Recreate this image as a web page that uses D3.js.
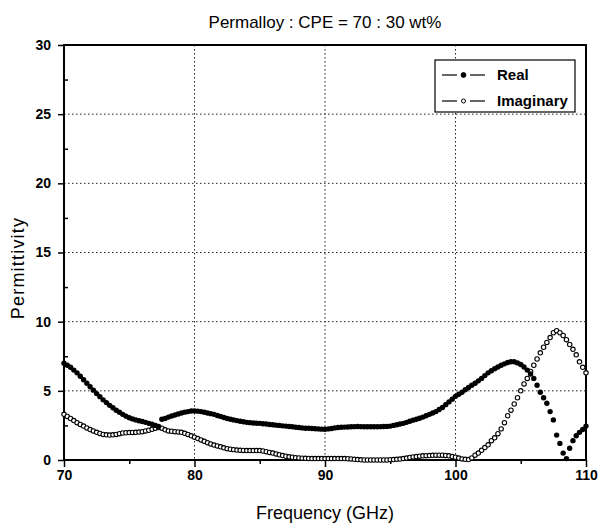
<!DOCTYPE html>
<html>
<head>
<meta charset="utf-8">
<script src="https://cdn.jsdelivr.net/npm/d3@7"></script>
<style>
  body { margin: 0; background: #fff; }
  text { font-family: Arial, "Liberation Sans", sans-serif; fill: #000; }
</style>
</head>
<body>
<div id="container"></div>
<script>
// frequency grid of the measurement, GHz
const freq = d3.range(0, 161).map(i => 70 + i * 0.25);

// Real part, one value per 0.25 GHz (rows = 1 GHz)
const realVals = [
  7.00, 6.85, 6.70, 6.50,
  6.30, 6.05, 5.80, 5.55,
  5.30, 5.05, 4.80, 4.58,
  4.35, 4.15, 3.95, 3.78,
  3.60, 3.45, 3.30, 3.17,
  3.05, 2.97, 2.90, 2.84,
  2.78, 2.72, 2.65, 2.58,
  2.50, 2.42, 2.95, 3.00,
  3.10, 3.18, 3.25, 3.33,
  3.40, 3.46, 3.50, 3.54,
  3.55, 3.53, 3.50, 3.45,
  3.40, 3.35, 3.30, 3.22,
  3.15, 3.07, 3.00, 2.95,
  2.90, 2.85, 2.80, 2.76,
  2.72, 2.70, 2.68, 2.66,
  2.65, 2.62, 2.60, 2.57,
  2.55, 2.52, 2.50, 2.47,
  2.45, 2.42, 2.40, 2.37,
  2.35, 2.32, 2.30, 2.29,
  2.28, 2.26, 2.25, 2.23,
  2.22, 2.25, 2.28, 2.32,
  2.35, 2.37, 2.38, 2.39,
  2.40, 2.41, 2.42, 2.41,
  2.40, 2.40, 2.40, 2.40,
  2.40, 2.41, 2.42, 2.43,
  2.45, 2.50, 2.55, 2.60,
  2.65, 2.72, 2.80, 2.88,
  2.95, 3.02, 3.10, 3.20,
  3.30, 3.40, 3.50, 3.65,
  3.80, 4.00, 4.20, 4.40,
  4.60, 4.75, 4.90, 5.08,
  5.25, 5.40, 5.55, 5.72,
  5.90, 6.10, 6.30, 6.45,
  6.60, 6.72, 6.85, 6.95,
  7.05, 7.10, 7.10, 7.02,
  6.90, 6.72, 6.50, 6.22,
  5.90, 5.40, 4.90, 4.50,
  4.10, 3.50, 2.90, 1.80,
  1.20, 0.50, 0.10, 0.85,
  1.40, 1.75, 2.00, 2.20,
  2.45
];

// Imaginary part
const imagVals = [
  3.30, 3.15, 3.00, 2.85,
  2.70, 2.57, 2.45, 2.32,
  2.20, 2.10, 2.00, 1.92,
  1.85, 1.82, 1.80, 1.82,
  1.85, 1.90, 1.95, 1.97,
  1.98, 1.99, 2.00, 2.02,
  2.05, 2.10, 2.15, 2.22,
  2.30, 2.35, 2.30, 2.18,
  2.10, 2.08, 2.05, 2.03,
  2.00, 1.93, 1.85, 1.75,
  1.65, 1.55, 1.45, 1.35,
  1.25, 1.16, 1.08, 1.02,
  0.95, 0.88, 0.82, 0.78,
  0.75, 0.72, 0.70, 0.69,
  0.68, 0.68, 0.68, 0.68,
  0.68, 0.65, 0.60, 0.55,
  0.50, 0.44, 0.38, 0.32,
  0.27, 0.23, 0.20, 0.17,
  0.15, 0.13, 0.12, 0.11,
  0.10, 0.10, 0.10, 0.10,
  0.10, 0.10, 0.10, 0.10,
  0.10, 0.10, 0.10, 0.09,
  0.08, 0.05, 0.03, 0.01,
  0.00, 0.00, 0.00, 0.00,
  0.00, 0.00, 0.00, 0.00,
  0.02, 0.03, 0.05, 0.07,
  0.10, 0.14, 0.18, 0.22,
  0.25, 0.28, 0.30, 0.31,
  0.32, 0.34, 0.35, 0.35,
  0.35, 0.33, 0.30, 0.25,
  0.20, 0.14, 0.08, 0.05,
  0.03, 0.15, 0.35, 0.50,
  0.70, 0.90, 1.10, 1.40,
  1.60, 1.90, 2.25, 2.70,
  3.20, 3.60, 4.05, 4.50,
  5.00, 5.50, 5.90, 6.40,
  6.85, 7.30, 7.75, 8.15,
  8.50, 8.85, 9.20, 9.35,
  9.20, 9.00, 8.70, 8.35,
  8.00, 7.60, 7.10, 6.70,
  6.30
];

const xTicks = [70, 80, 90, 100, 110];
const yTicks = [0, 5, 10, 15, 20, 25, 30];
const seriesNames = ["Real", "Imaginary"];

const W = 598, H = 529;
const margin = {top: 45, right: 12, bottom: 69, left: 64};
const width = W - margin.left - margin.right;
const height = H - margin.top - margin.bottom;

const svg = d3.select("#container").append("svg")
  .attr("width", W).attr("height", H);
const g = svg.append("g")
  .attr("transform", `translate(${margin.left},${margin.top})`);

const x = d3.scaleLinear().domain([70, 110]).range([0, width]);
const y = d3.scaleLinear().domain([0, 30]).range([height, 0]);

// dotted grid
g.append("g").selectAll("line")
  .data(xTicks.slice(1, -1)).enter().append("line")
  .attr("x1", d => x(d)).attr("x2", d => x(d))
  .attr("y1", 0).attr("y2", height)
  .attr("stroke", "#222").attr("stroke-width", 1)
  .attr("stroke-dasharray", "1.5,2.5");
g.append("g").selectAll("line")
  .data(yTicks.slice(1, -1)).enter().append("line")
  .attr("x1", 0).attr("x2", width)
  .attr("y1", d => y(d)).attr("y2", d => y(d))
  .attr("stroke", "#222").attr("stroke-width", 1)
  .attr("stroke-dasharray", "1.5,2.5");

// axes
const xAxis = g.append("g")
  .attr("transform", `translate(0,${height})`)
  .call(d3.axisBottom(x).tickValues(xTicks).tickSize(7).tickPadding(3));
const xMinor = g.append("g")
  .attr("transform", `translate(0,${height})`)
  .call(d3.axisBottom(x).tickValues([75, 85, 95, 105]).tickSize(4).tickFormat(""));
const yAxis = g.append("g")
  .call(d3.axisLeft(y).tickValues(yTicks).tickSize(6).tickPadding(7));
const yMinor = g.append("g")
  .call(d3.axisRight(y).tickValues([2.5, 7.5, 12.5, 17.5, 22.5, 27.5]).tickSize(4).tickFormat(""));

[xAxis, yAxis, xMinor, yMinor].forEach(a => {
  a.select(".domain").remove();
  a.selectAll("line").attr("stroke", "#000").attr("stroke-width", 1.5);
  a.selectAll("text")
    .style("font-family", "Arial, 'Liberation Sans', sans-serif")
    .style("font-size", "14px").style("font-weight", "bold");
});

// frame
g.append("rect")
  .attr("x", 0).attr("y", 0).attr("width", width).attr("height", height)
  .attr("fill", "none").attr("stroke", "#000").attr("stroke-width", 2);

// data
const realData = freq.map((f, i) => ({f: f, v: realVals[i]}));
const imagData = freq.map((f, i) => ({f: f, v: imagVals[i]}));

g.append("g").selectAll("circle")
  .data(imagData).enter().append("circle")
  .attr("cx", d => x(d.f)).attr("cy", d => y(d.v)).attr("r", 2.2)
  .attr("fill", "#fff").attr("stroke", "#000").attr("stroke-width", 1.1);

g.append("g").selectAll("circle")
  .data(realData).enter().append("circle")
  .attr("cx", d => x(d.f)).attr("cy", d => y(d.v)).attr("r", 2.7)
  .attr("fill", "#000");

// legend
const lg = svg.append("g").attr("transform", "translate(435,60)");
lg.append("rect").attr("width", 140).attr("height", 52)
  .attr("fill", "#fff").attr("stroke", "#000").attr("stroke-width", 1.2);
seriesNames.forEach((name, i) => {
  const row = lg.append("g").attr("transform", `translate(0,${15 + i * 26})`);
  row.append("line").attr("x1", 7).attr("x2", 22).attr("y1", 0).attr("y2", 0)
    .attr("stroke", "#000").attr("stroke-width", 1.2);
  row.append("line").attr("x1", 35).attr("x2", 50).attr("y1", 0).attr("y2", 0)
    .attr("stroke", "#000").attr("stroke-width", 1.2);
  row.append("circle").attr("cx", 28.5).attr("cy", 0).attr("r", i === 0 ? 2.4 : 2)
    .attr("fill", i === 0 ? "#000" : "#fff").attr("stroke", "#000").attr("stroke-width", 1);
  row.append("text").attr("x", 62).attr("y", 5)
    .style("font-size", "15px").style("font-weight", "bold").text(name);
});

// titles
svg.append("text")
  .attr("x", margin.left + width / 2).attr("y", 28)
  .attr("text-anchor", "middle").style("font-size", "17px")
  .text("Permalloy : CPE = 70 : 30 wt%");
svg.append("text")
  .attr("x", margin.left + width / 2).attr("y", 519)
  .attr("text-anchor", "middle").style("font-size", "18px")
  .text("Frequency (GHz)");
svg.append("text")
  .attr("transform", `translate(24,268) rotate(-90)`)
  .attr("text-anchor", "middle").style("font-size", "18px")
  .style("letter-spacing", "1.2px")
  .text("Permittivity");
</script>
</body>
</html>
